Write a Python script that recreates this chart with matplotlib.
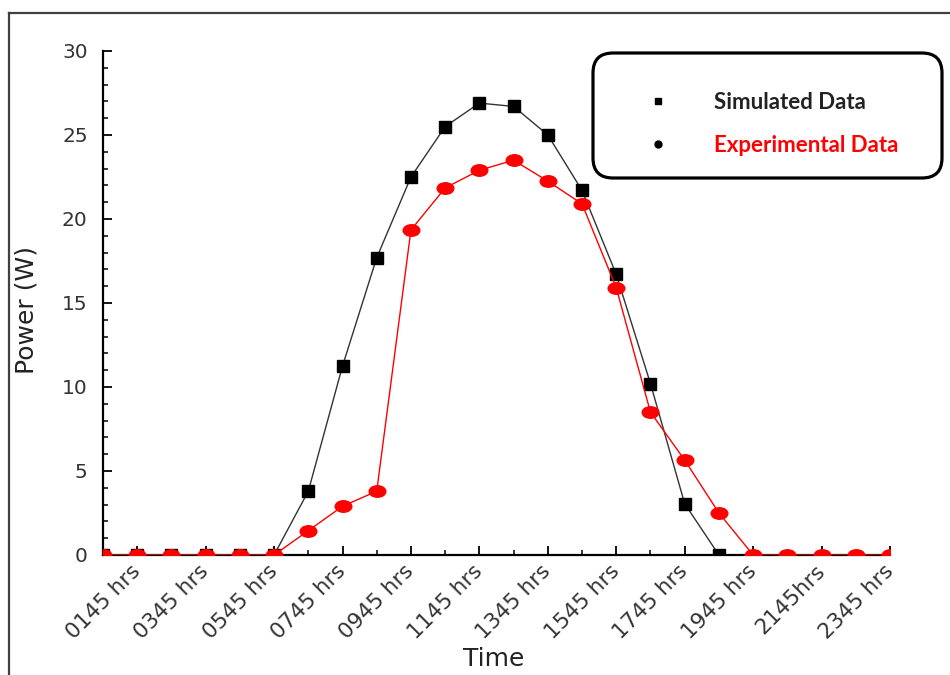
import numpy as np
import matplotlib
matplotlib.use('Agg')
import matplotlib.pyplot as plt
from matplotlib.path import Path
from matplotlib.patches import FancyBboxPatch, Rectangle
from matplotlib.lines import Line2D
from matplotlib.ticker import MultipleLocator, FixedLocator
from matplotlib.transforms import IdentityTransform

# Hourly readings, 0045 hrs .. 2345 hrs
hours = ['0045', '0145', '0245', '0345', '0445', '0545', '0645', '0745',
         '0845', '0945', '1045', '1145', '1245', '1345', '1445', '1545',
         '1645', '1745', '1845', '1945', '2045', '2145', '2245', '2345']
tick_labels = ['0145 hrs', '0345 hrs', '0545 hrs', '0745 hrs', '0945 hrs',
               '1145 hrs', '1345 hrs', '1545 hrs', '1745 hrs', '1945 hrs',
               '2145hrs', '2345 hrs']
simulated = [0, 0, 0, 0, 0, 0, 3.8, 11.25, 17.7, 22.5, 25.5, 26.9, 26.7,
             25.0, 21.7, 16.7, 10.2, 3.05, 0]
experimental = [0, 0, 0, 0, 0, 0, 1.45, 2.9, 3.8, 19.35, 21.85, 22.9, 23.5,
                22.25, 20.9, 15.9, 8.5, 5.65, 2.5, 0, 0, 0, 0, 0]

x_all = np.arange(len(hours))

# flattened ellipse marker for the experimental points
circ = Path.unit_circle()
ellipse = Path(circ.vertices * [1.45, 1.0], circ.codes)

fig = plt.figure(figsize=(9.5, 6.75), dpi=100)
ax = fig.add_axes([103 / 950, 1 - 555 / 675, 787 / 950, 504 / 675])

l1, = ax.plot(x_all[:len(simulated)], simulated, color='#333333', lw=1.0,
              marker='s', ms=9, mfc='black', mec='black', zorder=3)
l2, = ax.plot(x_all, experimental, color='red', lw=1.0,
              marker=ellipse, ms=12, mfc='red', mec='red', zorder=4)
# markers sitting on zero are cut by the axis, as in the original
clip = Rectangle((0, 0), 1, 1.2, transform=ax.transAxes)
for ln in (l1, l2):
    ln.set_clip_path(clip)

ax.set_xlim(0, len(hours) - 1)
ax.set_ylim(0, 30)

for s in ['top', 'right']:
    ax.spines[s].set_visible(False)
for s in ['left', 'bottom']:
    ax.spines[s].set_linewidth(1.6)

ax.yaxis.set_major_locator(MultipleLocator(5))
ax.yaxis.set_minor_locator(MultipleLocator(1))
ax.xaxis.set_major_locator(FixedLocator(x_all[1::2]))
ax.xaxis.set_minor_locator(FixedLocator(x_all[0::2]))
ax.set_xticklabels(tick_labels, rotation=45, ha='right', va='center',
                   rotation_mode='anchor')

ax.tick_params(which='major', direction='in', length=6.5, width=1.3,
               labelcolor='#333333')
ax.tick_params(which='minor', direction='in', length=3.5, width=1.1)
ax.tick_params(axis='y', pad=11, labelsize=14.5)
ax.tick_params(axis='x', pad=9.5, labelsize=15.5)

ax.set_xlabel('Time', fontsize=18, color='#222222')
ax.set_ylabel('Power (W)', fontsize=18, color='#222222')
ax.xaxis.set_label_coords(0.497, -0.182)
ax.yaxis.set_label_coords(-0.082, 0.486)

# legend: rounded box drawn in pixels, entries with small black markers
box = FancyBboxPatch((593, 497), 349, 125,
                     boxstyle='round,pad=0,rounding_size=20',
                     transform=IdentityTransform(), fc='white', ec='black',
                     lw=2.3, zorder=5, clip_on=False)
ax.add_artist(box)
handles = [Line2D([], [], ls='none', marker='s', color='black', ms=5),
           Line2D([], [], ls='none', marker='o', color='black', ms=5)]
leg = ax.legend(handles, ['Simulated Data', 'Experimental Data'],
                loc='upper left', bbox_to_anchor=(647 / 950, 1 - 92 / 675),
                bbox_transform=fig.transFigure, frameon=False,
                borderpad=0, handlelength=1, handletextpad=2.0,
                labelspacing=1.0, borderaxespad=0,
                prop={'family': 'Lato', 'weight': 'bold', 'size': 16})
leg.set_zorder(6)
for t, c in zip(leg.get_texts(), ['#222222', 'red']):
    t.set_color(c)

# outer border of the picture
fig.add_artist(Line2D([9 / 950, 9 / 950], [0, 1 - 13 / 675],
                      transform=fig.transFigure, color='#404040', lw=1.6))
fig.add_artist(Line2D([9 / 950, 1], [1 - 13 / 675, 1 - 13 / 675],
                      transform=fig.transFigure, color='#404040', lw=1.6))

fig.savefig('out.png', dpi=100)
